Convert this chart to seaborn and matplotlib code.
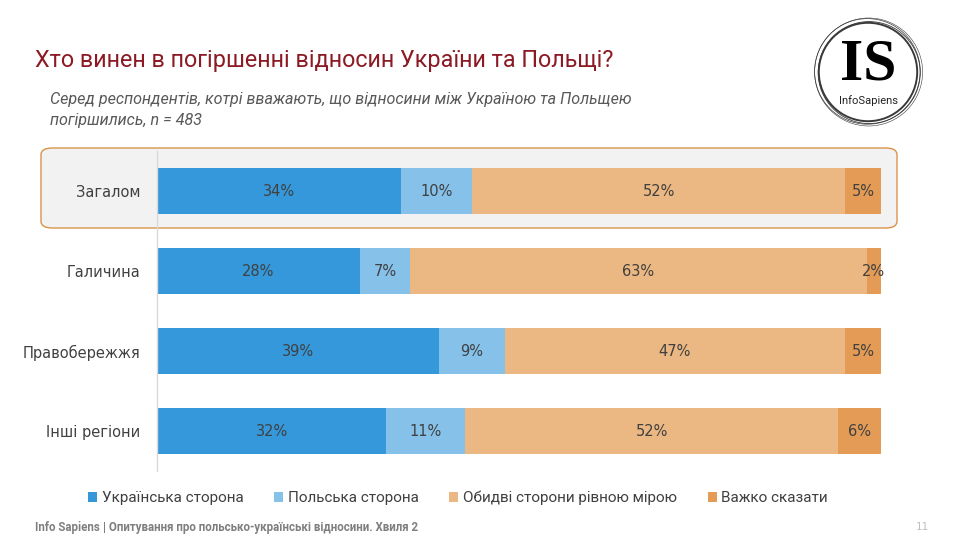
import numpy as np
import pandas as pd
import seaborn as sns
import matplotlib.pyplot as plt
from matplotlib.patches import FancyBboxPatch, Circle, Patch

# Data
categories = ["Загалом", "Галичина", "Правобережжя", "Інші регіони"]
series_names = ["Українська сторона", "Польська сторона", "Обидві сторони рівною мірою", "Важко сказати"]
ukr_side = [34, 28, 39, 32]
pol_side = [10, 7, 9, 11]
both_sides = [52, 63, 47, 52]
hard_to_say = [5, 2, 5, 6]

colors = ["#3498db", "#85c1e9", "#ebb782", "#e39b56"]

sns.set_theme(style="white")
plt.rcParams["font.family"] = ["DejaVu Sans"]

fig = plt.figure(figsize=(9.6, 5.4), dpi=100)

# highlight box behind the first row
box = FancyBboxPatch((41 / 960, 1 - 228 / 540), 856 / 960, 80 / 540,
                     boxstyle="round,pad=0,rounding_size=0.012",
                     transform=fig.transFigure, facecolor="#f2f2f2",
                     edgecolor="#d9944a", linewidth=1.0, zorder=0)
fig.patches.append(box)

ax = fig.add_axes([157 / 960, 1 - 471 / 540, 724 / 960, 320 / 540])
ax.patch.set_alpha(0)
ax.set_zorder(2)

df = pd.DataFrame({"cat": categories, "s0": ukr_side, "s1": pol_side,
                   "s2": both_sides, "s3": hard_to_say})
vals = df[["s0", "s1", "s2", "s3"]].to_numpy(dtype=float)
totals = vals.sum(axis=1, keepdims=True)
shares = vals / totals * 100  # rows scaled so every bar fills the full width
cum = shares.cumsum(axis=1)

# stacked bars: draw cumulative totals from the last series to the first
for i in range(3, -1, -1):
    plot_df = pd.DataFrame({"cat": categories, "x": cum[:, i]})
    sns.barplot(data=plot_df, y="cat", x="x", orient="h", color=colors[i],
                saturation=1, width=0.575, ax=ax, edgecolor="none")

for r in range(len(categories)):
    left = 0
    for i in range(4):
        ax.text(left + shares[r, i] / 2, r, f"{int(vals[r, i])}%", ha="center", va="center",
                fontsize=10.5, color="#404040")
        left += shares[r, i]

ax.set_xlim(0, 100)
ax.set_ylim(3.5, -0.5)
ax.set_xlabel("")
ax.set_ylabel("")
ax.set_xticks([])
ax.tick_params(axis="y", length=0, pad=12, labelsize=10.5, labelcolor="#404040")
for s in ["top", "right", "bottom"]:
    ax.spines[s].set_visible(False)
ax.spines["left"].set_color("#d9d9d9")
ax.spines["left"].set_linewidth(1)

# title and subtitle
fig.text(35 / 960, 1 - 60 / 540, "Хто винен в погіршенні відносин України та Польщі?",
         fontsize=16.8, color="#8b1a24", family="Roboto", va="center", ha="left")
fig.text(50 / 960, 1 - 100 / 540, "Серед респондентів, котрі вважають, що відносини між Україною та Польщею",
         fontsize=11.6, color="#595959", family="Roboto", style="italic", va="center")
fig.text(50 / 960, 1 - 120 / 540, "погіршились, n = 483",
         fontsize=11.6, color="#595959", family="Roboto", style="italic", va="center")

# legend
handles = [Patch(facecolor=c, edgecolor="none") for c in colors]
fig.legend(handles, series_names, loc="center", bbox_to_anchor=(458 / 960, 1 - 498 / 540),
           ncol=4, frameon=False, handlelength=0.6, handleheight=0.6,
           handletextpad=0.3, columnspacing=2.0, labelcolor="#404040",
           prop={"family": "Roboto", "size": 11})

# footer
fig.text(35 / 960, 1 - 527 / 540, "Info Sapiens", fontsize=8.3, color="#7f7f7f",
         weight="bold", family="Roboto", va="center")
fig.text(103 / 960, 1 - 527 / 540, "| Опитування про польсько-українські відносини. Хвиля 2",
         fontsize=8.3, color="#7f7f7f", weight="bold", family="Roboto", va="center")
fig.text(916 / 960, 1 - 527 / 540, "11", fontsize=7.5, color="#bfbfbf", va="center")

# logo
lax = fig.add_axes([808 / 960, 1 - 132 / 540, 120 / 960, 120 / 540])
lax.set_xlim(-1, 1)
lax.set_ylim(-1, 1)
lax.set_aspect("equal")
lax.axis("off")
for r, dx, dy, lw in [(0.82, 0, 0, 1.4), (0.85, 0.02, -0.01, 0.6), (0.88, -0.01, 0.01, 0.5), (0.90, 0.01, 0.0, 0.4)]:
    lax.add_patch(Circle((dx, dy), r, fill=False, edgecolor="#3a3a3a", linewidth=lw))
lax.text(0, -0.12, "IS", ha="center", va="baseline", fontsize=43, weight="bold",
         family="Liberation Serif", color="black")
lax.text(0, -0.48, "InfoSapiens", ha="center", va="center", fontsize=8,
         family="Roboto", color="#222222")

fig.savefig("out.png", dpi=100)
